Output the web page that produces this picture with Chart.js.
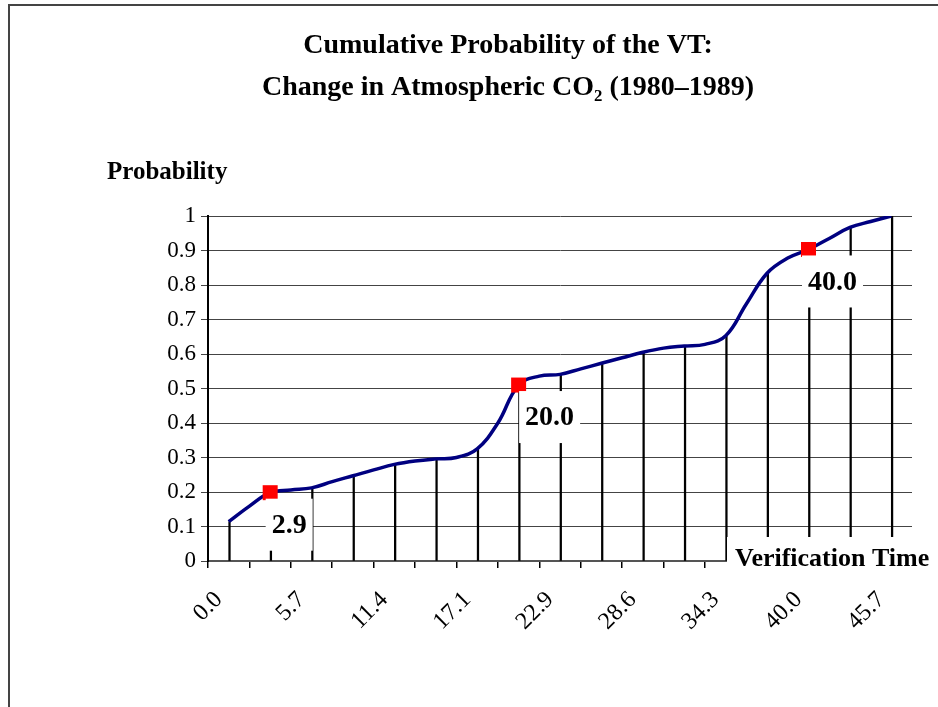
<!DOCTYPE html>
<html>
<head>
<meta charset="utf-8">
<script src="https://cdn.jsdelivr.net/npm/chart.js@4.4.1/dist/chart.umd.min.js"></script>
<style>
  html, body { margin: 0; padding: 0; background: #fff; }
  #wrap { position: relative; width: 938px; height: 707px; overflow: hidden; }
  #frame { position: absolute; left: 8px; top: 4px; width: 940px; height: 720px;
           border-left: 2px solid #444; border-top: 2px solid #444; box-sizing: border-box; pointer-events: none; }
  canvas { position: absolute; left: 0; top: 0; }
</style>
</head>
<body>
<div id="wrap">
  <canvas id="c" width="938" height="707"></canvas>
  <div id="frame"></div>
</div>
<script>
// ---- Data ----
const vtLabels = ['0.0','2.9','5.7','8.6','11.4','14.3','17.1','20.0','22.9','25.7','28.6','31.4','34.3','37.1','40.0','42.9','45.7'];
const dropValues = [0.114,0.198,0.212,0.247,0.280,0.296,0.325,0.510,0.541,0.573,0.605,0.623,0.653,0.834,0.903,0.967,1.000];
const curveVT = [0,1.43,2.86,4.29,5.71,7.14,8.57,10.0,11.43,12.86,14.29,15.71,17.14,18.57,20.0,21.43,22.86,24.29,25.71,27.14,28.57,30.0,31.43,32.86,34.29,35.71,37.14,38.57,40.0,41.43,42.86,44.29,45.71];
const curveProb = [0.114,0.159,0.198,0.206,0.212,0.230,0.247,0.264,0.280,0.290,0.296,0.300,0.325,0.400,0.510,0.536,0.541,0.557,0.573,0.589,0.605,0.617,0.623,0.628,0.653,0.745,0.834,0.878,0.903,0.935,0.967,0.984,1.000];
const markerVT = [2.86, 20.0, 40.0];
const markerProb = [0.198, 0.510, 0.903];
const markerText = ['2.9', '20.0', '40.0'];
const titleLines = ['Cumulative Probability of the VT:', 'Change in Atmospheric CO\u2082 (1980\u20131989)'];
const yTitle = 'Probability';
const xTitle = 'Verification Time';

// ---- Styling / layout helpers ----
const SERIF = '"Liberation Serif", "Times New Roman", serif';
const labelNudgeX = [19, 31, 24];

const textPlugin = {
  id: 'texts',
  afterDatasetsDraw(chart) {
    const ctx = chart.ctx;
    const meta = chart.getDatasetMeta(0);
    ctx.save();
    ctx.font = 'bold 28px ' + SERIF;
    ctx.textAlign = 'center';
    ctx.textBaseline = 'middle';
    meta.data.forEach((pt, i) => {
      const cx = pt.x + labelNudgeX[i];
      const cy = pt.y + 32;
      const w = ctx.measureText(markerText[i]).width + 12;
      const h = 52;
      ctx.fillStyle = '#fff';
      ctx.fillRect(cx - w / 2, cy - h / 2, w, h);
      ctx.fillStyle = '#000';
      ctx.fillText(markerText[i], cx, cy + 1);
    });
    ctx.restore();
  },
  afterDraw(chart) {
    const ctx = chart.ctx;
    const area = chart.chartArea;
    ctx.save();
    ctx.fillStyle = '#000';
    ctx.textBaseline = 'middle';
    // title
    ctx.font = 'bold 28px ' + SERIF;
    ctx.textAlign = 'center';
    ctx.fillText(titleLines[0], 508, 46);
    ctx.fillText(titleLines[1], 508, 88);
    // y title
    ctx.font = 'bold 25px ' + SERIF;
    ctx.textAlign = 'left';
    ctx.fillText(yTitle, 107, 173);
    // x title with white box
    ctx.font = 'bold 26px ' + SERIF;
    ctx.fillStyle = '#fff';
    ctx.fillRect(727, area.bottom - 24, 938 - 727, 44);
    ctx.fillStyle = '#000';
    ctx.fillText(xTitle, 735, area.bottom - 2);
    ctx.restore();
  }
};

new Chart(document.getElementById('c'), {
  type: 'bar',
  data: {
    labels: vtLabels,
    datasets: [
      {
        type: 'scatter',
        data: markerVT.map((v, i) => ({ x: v, y: markerProb[i] })),
        xAxisID: 'x2',
        pointStyle: 'rect',
        pointRadius: 10.6,
        pointBackgroundColor: '#ff0000',
        pointBorderWidth: 0,
        order: 0
      },
      {
        type: 'line',
        data: curveVT.map((v, i) => ({ x: v, y: curveProb[i] })),
        xAxisID: 'x2',
        borderColor: '#000080',
        borderWidth: 3.5,
        pointRadius: 0,
        tension: 0.4,
        fill: false,
        order: 1
      },
      {
        type: 'bar',
        data: dropValues,
        xAxisID: 'x',
        backgroundColor: '#000',
        barThickness: 1.6,
        order: 2
      }
    ]
  },
  options: {
    responsive: false,
    animation: false,
    events: [],
    layout: { padding: { left: 108, top: 216, right: 26, bottom: 26 } },
    plugins: { legend: { display: false }, title: { display: false }, tooltip: { enabled: false } },
    scales: {
      x: {
        type: 'category',
        offset: true,
        afterFit(s) { s.height = 120; },
        grid: { display: true, drawOnChartArea: false, drawTicks: true, tickLength: 7, color: '#000', lineWidth: 1.5, offset: true },
        border: { display: true, color: '#555', width: 2 },
        ticks: {
          autoSkip: false,
          minRotation: 45,
          maxRotation: 45,
          padding: 18,
          labelOffset: -10,
          color: '#000',
          font: { family: SERIF, size: 24 },
          callback: (v, i) => (i % 2 === 0 ? vtLabels[i] : '')
        }
      },
      x2: {
        type: 'linear',
        position: 'bottom',
        display: true,
        offset: false,
        bounds: 'ticks',
        min: -1.43,
        max: 47.14,
        afterFit(s) { s.height = 0; },
        grid: { display: false, drawTicks: false, offset: false },
        border: { display: false },
        ticks: { display: false }
      },
      y: {
        type: 'linear',
        min: 0,
        max: 1,
        afterFit(s) { s.width = 100; },
        grid: { color: '#444', lineWidth: 1, tickLength: 7 },
        border: { display: true, color: '#000', width: 2 },
        ticks: {
          stepSize: 0.1,
          padding: 5,
          color: '#000',
          font: { family: SERIF, size: 23 },
          callback: (v) => String(Math.round(v * 10) / 10)
        }
      }
    }
  },
  plugins: [textPlugin]
});
</script>
</body>
</html>
